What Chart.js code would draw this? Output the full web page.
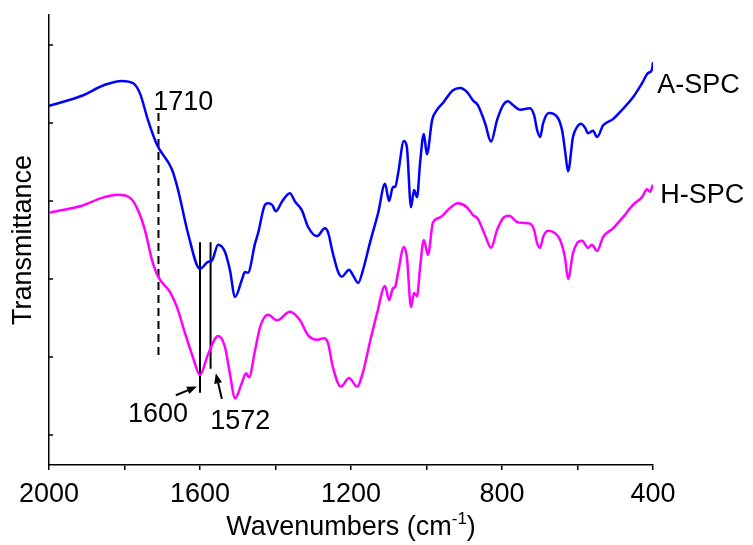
<!DOCTYPE html>
<html>
<head>
<meta charset="utf-8">
<script src="https://cdn.jsdelivr.net/npm/chart.js@4.4.0/dist/chart.umd.min.js"></script>
<style>
  html, body { margin: 0; padding: 0; background: #fff; }
  #wrap { width: 753px; height: 545px; }
</style>
</head>
<body>
<div id="wrap"><canvas id="ftir" width="753" height="545"></canvas></div>
<script>
// === DONNEES ===
const aSpcWave = [2000, 1913, 1852, 1807, 1777, 1759, 1738, 1714, 1674, 1658, 1632, 1600, 1579, 1568, 1552, 1534, 1521, 1507, 1489, 1481, 1473, 1454,
  1446, 1428, 1420, 1409, 1399, 1383, 1362, 1348, 1330, 1314, 1290, 1269, 1261, 1248, 1234, 1224, 1205, 1195, 1181, 1168, 1150, 1128, 1110,
  1099, 1089, 1083, 1075, 1060, 1052, 1041, 1033, 1025, 1017, 1007, 999, 985, 972, 956, 930, 911, 893, 877, 864, 845, 829, 813, 797, 784,
  771, 752, 726, 715, 707, 699, 691, 676, 654, 641, 633, 625, 612, 601, 591, 580, 572, 559, 548, 532, 506, 480, 453, 429, 413, 403, 400];
const aSpcT = [42.2, 43.5, 44.9, 45.4, 45.1, 43.8, 40.4, 37.2, 34.0, 31.4, 25.9, 21.3, 22.2, 22.4, 24.4, 23.5, 21.2, 17.7, 19.9, 20.9, 20.8, 24.6,
  25.9, 29.5, 29.7, 29.5, 28.7, 29.9, 31.0, 29.9, 28.8, 26.7, 25.5, 26.5, 26.0, 23.3, 20.9, 20.3, 21.2, 20.5, 19.5, 21.2, 24.6, 28.5, 32.2,
  30.0, 31.8, 31.8, 33.6, 37.7, 36.9, 29.2, 31.4, 30.5, 34.9, 38.6, 36.0, 40.4, 41.7, 42.6, 44.2, 44.5, 44.0, 42.9, 42.3, 40.0, 37.6, 40.4, 42.3, 42.8,
  42.3, 41.7, 41.9, 41.0, 39.1, 38.2, 40.0, 41.3, 40.8, 39.1, 36.5, 33.8, 38.2, 39.5, 39.9, 39.4, 38.7, 39.0, 38.2, 39.7, 40.5, 41.8, 43.3, 45.1, 46.4, 46.8, 47.8];

const hSpcWave = [2000, 1913, 1860, 1817, 1785, 1764, 1746, 1727, 1711, 1679, 1661, 1640, 1619, 1600, 1579, 1552, 1534, 1521, 1507, 1489, 1478, 1470,
  1454, 1441, 1420, 1396, 1362, 1335, 1314, 1290, 1272, 1261, 1248, 1227, 1205, 1184, 1168, 1150, 1131, 1110, 1099, 1089, 1083, 1075, 1060, 1052,
  1041, 1033, 1025, 1017, 1007, 996, 983, 964, 938, 917, 893, 877, 864, 845, 829, 813, 797, 781, 760, 744, 726, 715, 707, 699, 691, 678, 660, 646,
  633, 625, 612, 601, 588, 572, 562, 548, 532, 506, 480, 453, 429, 416, 408, 400];
const hSpcT = [28.5, 29.4, 30.4, 30.8, 30.4, 28.8, 26.3, 22.4, 20.3, 18.3, 16.4, 13.1, 10.0, 7.7, 10.3, 12.7, 11.3, 7.9, 4.7, 6.7, 7.9, 7.4,
  10.9, 13.8, 15.4, 14.7, 15.8, 14.7, 12.8, 12.2, 12.4, 11.8, 8.7, 6.2, 7.3, 6.2, 8.1, 11.9, 15.6, 19.1, 17.3, 18.8, 19.0, 20.9, 24.1, 22.8,
  16.4, 18.2, 17.8, 21.5, 25.0, 23.1, 27.2, 27.9, 29.1, 29.7, 29.2, 28.2, 27.7, 25.6, 24.0, 26.3, 27.8, 28.1, 27.3, 27.2, 27.1, 26.3, 24.6, 24.0, 25.4, 26.2, 25.9, 25.0,
  22.7, 20.0, 23.3, 24.6, 24.9, 24.0, 24.4, 23.6, 25.4, 26.5, 27.9, 29.5, 30.5, 31.5, 31.2, 32.1];

const xTickLabels = [2000, 1600, 1200, 800, 400];
const yTicks = [0, 10, 20, 30, 40, 50];

// reperes des bandes
const bandWave = [1710, 1600, 1572];
const bandTop = [41.3, 24.7, 24.7];
const bandBottom = [9.9, 5.4, 8.5];

// textes
const labelText = ["1710", "A-SPC", "H-SPC", "1600", "1572"];
const labelWave = [1724, 389, 381, 1791, 1573];
const labelT = [41.7, 43.8, 29.7, 1.7, 0.8];

// fleches
const arrowFromWave = [1664, 1542];
const arrowFromT = [5.1, 4.6];
const arrowToWave = [1608, 1558];
const arrowToT = [6.2, 7.9];

const FONT = '"Liberation Sans", Arial, sans-serif';
const toPts = (xs, ys) => xs.map((x, i) => ({ x, y: ys[i] }));

// === ANNOTATIONS ===
const annotations = {
  id: "annotations",
  afterDraw(chart) {
    const { ctx, scales: { x, y } } = chart;
    ctx.save();

    // petits ticks internes sur l'axe Y
    ctx.strokeStyle = "#000";
    ctx.lineWidth = 1.5;
    yTicks.forEach(v => {
      const py = y.getPixelForValue(v);
      ctx.beginPath();
      ctx.moveTo(x.left, py);
      ctx.lineTo(x.left + 4, py);
      ctx.stroke();
    });

    // textes
    ctx.fillStyle = "#000";
    ctx.font = `27px ${FONT}`;
    ctx.textBaseline = "alphabetic";
    ctx.textAlign = "left";
    labelText.forEach((t, i) => {
      ctx.fillText(t, x.getPixelForValue(labelWave[i]), y.getPixelForValue(labelT[i]));
    });

    // fleches
    arrowFromWave.forEach((w, i) => {
      const x1 = x.getPixelForValue(w), y1 = y.getPixelForValue(arrowFromT[i]);
      const x2 = x.getPixelForValue(arrowToWave[i]), y2 = y.getPixelForValue(arrowToT[i]);
      const a = Math.atan2(y2 - y1, x2 - x1);
      const hl = 10, hw = 4;
      const bx = x2 - hl * Math.cos(a), by = y2 - hl * Math.sin(a);
      ctx.beginPath();
      ctx.moveTo(x1, y1);
      ctx.lineTo(bx, by);
      ctx.lineWidth = 2;
      ctx.stroke();
      ctx.beginPath();
      ctx.moveTo(x2, y2);
      ctx.lineTo(bx + hw * Math.sin(a), by - hw * Math.cos(a));
      ctx.lineTo(bx - hw * Math.sin(a), by + hw * Math.cos(a));
      ctx.closePath();
      ctx.fill();
    });

    // titre de l'axe X avec exposant
    const main = "Wavenumbers (cm", sup = "-1", end = ")";
    ctx.font = `27px ${FONT}`;
    const w1 = ctx.measureText(main).width, w3 = ctx.measureText(end).width;
    ctx.font = `17px ${FONT}`;
    const w2 = ctx.measureText(sup).width;
    let tx = (x.left + x.right) / 2 - (w1 + w2 + w3) / 2;
    const ty = 535;
    ctx.font = `27px ${FONT}`;
    ctx.fillText(main, tx, ty);
    tx += w1;
    ctx.font = `17px ${FONT}`;
    ctx.fillText(sup, tx, ty - 11);
    tx += w2;
    ctx.font = `27px ${FONT}`;
    ctx.fillText(end, tx, ty);

    ctx.restore();
  }
};

// === GRAPHIQUE ===
new Chart(document.getElementById("ftir"), {
  type: "line",
  data: {
    datasets: [
      { label: "A-SPC", data: toPts(aSpcWave, aSpcT), borderColor: "#0000ff", borderWidth: 2.5, pointRadius: 0, cubicInterpolationMode: "monotone" },
      { label: "H-SPC", data: toPts(hSpcWave, hSpcT), borderColor: "#ff00ff", borderWidth: 2.5, pointRadius: 0, cubicInterpolationMode: "monotone" },
      ...bandWave.map((w, i) => ({
        label: "band " + w,
        data: [{ x: w, y: bandTop[i] }, { x: w, y: bandBottom[i] }],
        borderColor: "#000",
        borderWidth: 2,
        borderDash: i === 0 ? [8, 5] : [],
        pointRadius: 0
      }))
    ]
  },
  options: {
    responsive: false,
    animation: false,
    layout: { padding: { top: 15, right: 100, bottom: 0, left: 0 } },
    plugins: { legend: { display: false }, tooltip: { enabled: false } },
    scales: {
      x: {
        type: "linear",
        reverse: true,
        min: 400,
        max: 2000,
        afterFit: s => { s.height = 80; },
        border: { display: true, color: "#000", width: 1.5 },
        grid: { display: true, drawOnChartArea: false, drawTicks: true, tickLength: 5, color: "#000", lineWidth: 1.5 },
        ticks: {
          stepSize: 200,
          autoSkip: false,
          maxRotation: 0,
          padding: 8,
          color: "#000",
          font: { family: FONT, size: 27 },
          callback: v => (xTickLabels.includes(v) ? String(v) : "")
        }
      },
      y: {
        min: -3.85,
        max: 53.85,
        afterFit: s => { s.width = 49; },
        afterBuildTicks: s => { s.ticks = yTicks.map(v => ({ value: v })); },
        border: { display: true, color: "#000", width: 1.5 },
        grid: { display: false },
        ticks: { display: false },
        title: {
          display: true,
          text: "Transmittance",
          color: "#000",
          font: { family: FONT, size: 27 },
          padding: { top: 7, bottom: 0 }
        }
      }
    }
  },
  plugins: [annotations]
});
</script>
</body>
</html>
